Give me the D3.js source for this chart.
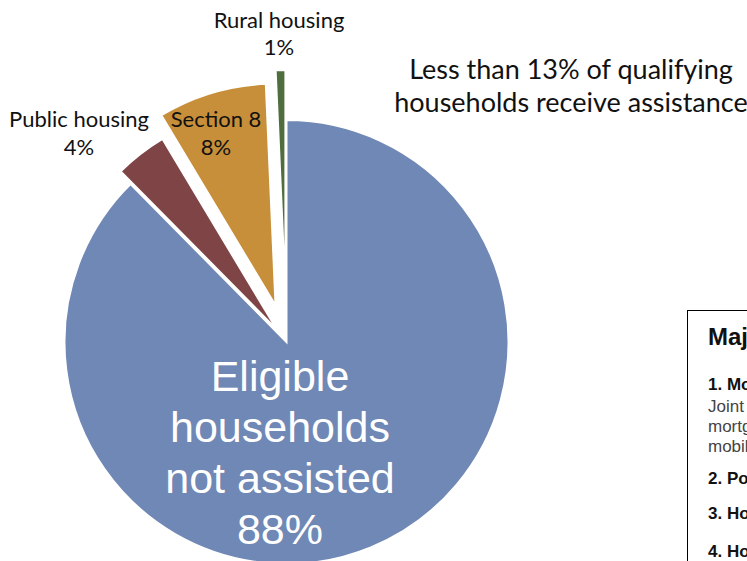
<!DOCTYPE html>
<html>
<head>
<meta charset="utf-8">
<title>assisted households</title>
<script src="https://d3js.org/d3.v7.min.js"></script>
<style>
body{margin:0;background:#fff;}
</style>
</head>
<body>
<svg width="747" height="561" id="mainsvg"></svg>
<script>
// slices, clockwise from 12 o'clock
const categories=['Eligible households not assisted','Public housing','Section 8','Rural housing'];
const shares=[87.6,3.8,7.9,0.7];
const labels=[['Eligible','households','not assisted','88%'],['Public housing','4%'],['Section 8','8%'],['Rural housing','1%']];
const colors=['#7088b5','#7f4446','#c88f3a','#4e6e3e'];
const explode=[0,16,38,50];
// label block anchor (centre of first line baseline)
const labelAt=[[280,391],[79,127],[216,127],[279,28]];
const lineGap=[51,28,28,27];
const titleLines=['Less than 13% of qualifying','households receive assistance'];
const boxLines=[
  {t:'Major Barriers to Assistance',bold:true,size:24,y:345},
  {t:'1. Mortgage market',bold:true,size:17,y:390},
  {t:'Joint Center for Housing Studies',bold:false,size:17,y:412},
  {t:'mortgage access limited for',bold:false,size:17,y:432},
  {t:'mobile households',bold:false,size:17,y:452},
  {t:'2. Poverty',bold:true,size:17,y:484},
  {t:'3. Housing costs',bold:true,size:17,y:519},
  {t:'4. Homelessness',bold:true,size:17,y:557}
];

let svg=d3.select('svg');
const width=+svg.attr('width');
const height=+svg.attr('height');
const cx=286.5, cy=342, r=222;

const pie=d3.pie().sort(null).value(d=>d);
const arc=d3.arc().innerRadius(0).outerRadius(r);
const arcs=pie(shares);

const g=svg.append('g').attr('transform',`translate(${cx},${cy})`);
g.selectAll('path.slice').data(arcs).enter().append('path')
 .attr('class','slice')
 .attr('d',arc)
 .attr('fill',(d,i)=>colors[i])
 .attr('stroke','#fff')
 .attr('stroke-width',2)
 .attr('transform',(d,i)=>{
    let m=(d.startAngle+d.endAngle)/2;
    return `translate(${explode[i]*Math.sin(m)},${-explode[i]*Math.cos(m)})`;
 });

// slice labels
labels.forEach((lines,i)=>{
  let t=svg.append('text')
    .attr('text-anchor','middle')
    .attr('fill',i==0?'#fff':'#111')
    .style('font-family',i==0?'"Liberation Sans", Arial, sans-serif':'Lato, "Open Sans", sans-serif')
    .style('font-size',i==0?'43px':'22px');
  lines.forEach((s,j)=>{
    t.append('tspan').attr('x',labelAt[i][0]).attr('y',labelAt[i][1]+j*lineGap[i]).text(s);
  });
});

// headline
let ht=svg.append('text').attr('text-anchor','middle').attr('fill','#111')
  .style('font-family','Lato, "Open Sans", sans-serif').style('font-size','27px');
titleLines.forEach((s,j)=>{
  ht.append('tspan').attr('x',571).attr('y',79+j*33).text(s);
});

// side box (runs off the page)
svg.append('rect').attr('x',687.5).attr('y',310.5).attr('width',120).attr('height',300)
  .attr('fill','#fff').attr('stroke','#000').attr('stroke-width',1);
svg.selectAll('text.box').data(boxLines).enter().append('text')
  .attr('class','box')
  .attr('x',708)
  .attr('y',d=>d.y)
  .attr('fill',d=>d.bold?'#111':'#444')
  .style('font-family','"Liberation Sans", Arial, sans-serif')
  .style('font-weight',d=>d.bold?'bold':'normal')
  .style('font-size',d=>d.size+'px')
  .text(d=>d.t);
</script>
</body>
</html>
